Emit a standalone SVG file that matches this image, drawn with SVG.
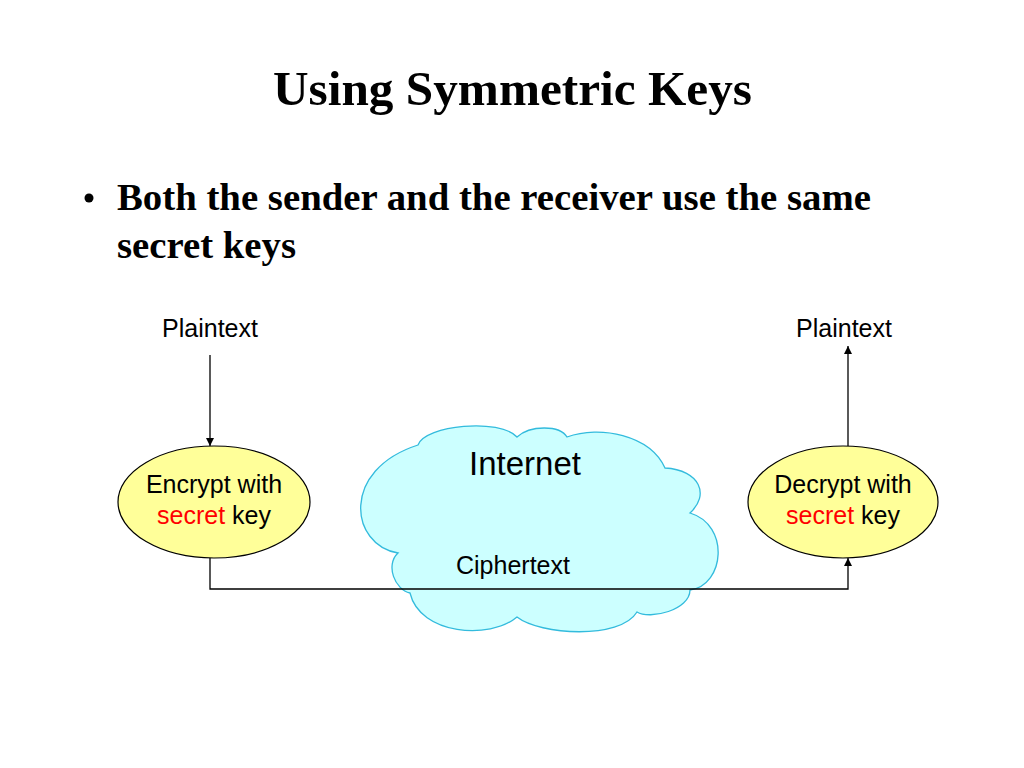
<svg xmlns="http://www.w3.org/2000/svg" width="1024" height="768" viewBox="0 0 1024 768">
<defs>
<style>
.ser{font-family:"Liberation Serif","Times New Roman",serif;font-weight:bold;fill:#000}
.lbl{font-family:"Liberation Sans",Arial,sans-serif;font-size:25px;fill:#000;text-anchor:middle}
.big{font-size:33px}
.red{fill:#ff0000}
.node{fill:#ffff99;stroke:#000;stroke-width:1.2}
.conn{fill:none;stroke:#000;stroke-width:1.3}
</style>
<marker id="arr" viewBox="0 0 10 10" refX="10" refY="5" markerWidth="8" markerHeight="8" markerUnits="userSpaceOnUse" orient="auto">
<path d="M0,0 L10,5 L0,10 Z" fill="#000"/>
</marker>
</defs>
<rect width="1024" height="768" fill="#fff"/>
<text class="ser" x="273" y="105" font-size="48" textLength="479" lengthAdjust="spacingAndGlyphs">Using Symmetric Keys</text>
<circle cx="89" cy="198" r="4.5" fill="#000"/>
<text class="ser" x="117" y="210" font-size="38" textLength="754" lengthAdjust="spacingAndGlyphs">Both the sender and the receiver use the same</text>
<text class="ser" x="117" y="258" font-size="38" textLength="179" lengthAdjust="spacingAndGlyphs">secret keys</text>

<g id="internet">
<path d="M398,553 C350,545 340,470 418,445 C425,425 500,418 517,437 C530,425 560,425 567,437 C600,425 650,435 665,468 C700,470 710,495 690,513 C730,525 725,585 690,590 C690,610 650,620 637,612 C620,640 540,635 517,617 C490,640 420,635 410,593 C395,590 385,565 398,553 Z" fill="#ccffff" stroke="#33bbdd" stroke-width="1.3"/>
<text class="lbl big" x="525" y="475">Internet</text>
<text class="lbl" x="513" y="574">Ciphertext</text>
</g>

<g id="plaintext-in"><text class="lbl" x="210" y="337">Plaintext</text></g>
<g id="plaintext-out"><text class="lbl" x="844" y="337">Plaintext</text></g>

<g id="encrypt">
<ellipse class="node" cx="214" cy="502" rx="96" ry="56"/>
<text class="lbl" x="214" y="493">Encrypt with</text>
<text class="lbl" x="214" y="524"><tspan class="red">secret</tspan> key</text>
</g>
<g id="decrypt">
<ellipse class="node" cx="843" cy="502" rx="95" ry="56"/>
<text class="lbl" x="843" y="493">Decrypt with</text>
<text class="lbl" x="843" y="524"><tspan class="red">secret</tspan> key</text>
</g>

<g id="connectors">
<line class="conn" x1="210" y1="355" x2="210" y2="446" marker-end="url(#arr)"/>
<line class="conn" x1="848" y1="446" x2="848" y2="346" marker-end="url(#arr)"/>
<polyline class="conn" points="210,558 210,589 848,589 848,558" marker-end="url(#arr)"/>
</g>
</svg>
